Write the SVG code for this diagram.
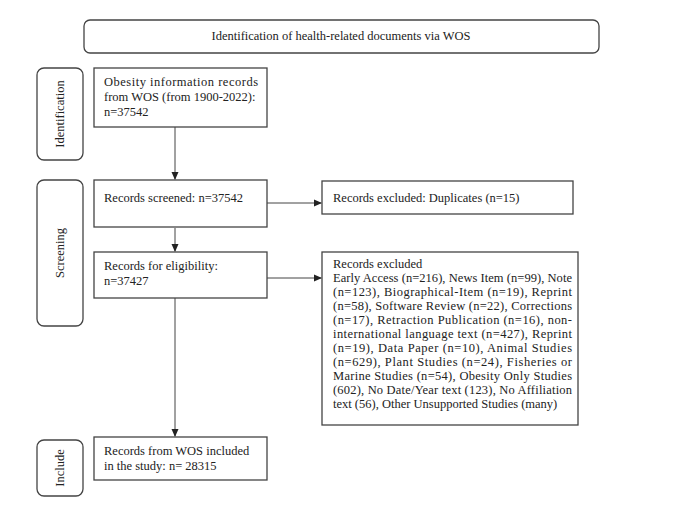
<svg xmlns="http://www.w3.org/2000/svg" width="687" height="505" viewBox="0 0 687 505">
<style>
text{font-family:"Liberation Serif","Times New Roman",serif;font-size:12.5px;fill:#222}
.b{fill:#fff;stroke:#444;stroke-width:1.3}
.c{stroke:#444;stroke-width:1;fill:none;marker-end:url(#a)}
</style>
<defs><marker id="a" markerWidth="8" markerHeight="8" refX="7" refY="4" orient="auto" markerUnits="userSpaceOnUse"><path d="M0,0.5 L8,4 L0,7.5z" fill="#222"/></marker></defs>
<rect width="687" height="505" fill="#fff"/>
<g id="top"><rect class="b" x="84" y="20" width="515" height="33" rx="6"/><text x="341" y="40" text-anchor="middle">Identification of health-related documents via WOS</text></g>
<g id="lab-ident"><rect class="b" x="37" y="68" width="46" height="92" rx="7"/><text transform="translate(64,114) rotate(-90)" text-anchor="middle">Identification</text></g>
<g id="lab-screen"><rect class="b" x="37" y="180" width="46" height="146" rx="7"/><text transform="translate(64,253) rotate(-90)" text-anchor="middle">Screening</text></g>
<g id="lab-incl"><rect class="b" x="37" y="440" width="46" height="56" rx="7"/><text transform="translate(64,468) rotate(-90)" text-anchor="middle">Include</text></g>
<g id="n1"><rect class="b" x="94" y="68" width="173" height="59"/><text x="104" y="86" textLength="154" lengthAdjust="spacing">Obesity information records</text><text x="104" y="101">from WOS (from 1900-2022):</text><text x="104" y="116">n=37542</text></g>
<g id="n2"><rect class="b" x="94" y="180" width="173" height="47"/><text x="104" y="202">Records screened: n=37542</text></g>
<g id="n3"><rect class="b" x="94" y="252" width="173" height="46"/><text x="104" y="270">Records for eligibility:</text><text x="104" y="285">n=37427</text></g>
<g id="n4"><rect class="b" x="94" y="437" width="173" height="43"/><text x="104" y="455">Records from WOS included</text><text x="104" y="470">in the study: n= 28315</text></g>
<g id="n5"><rect class="b" x="322" y="181" width="251" height="33"/><text x="333" y="202">Records excluded: Duplicates (n=15)</text></g>
<g id="n6"><rect class="b" x="322" y="252" width="256" height="173"/>
<text x="333" y="268">Records excluded</text>
<text x="333" y="282" textLength="239" lengthAdjust="spacing">Early Access (n=216), News Item (n=99), Note</text>
<text x="333" y="296" textLength="239" lengthAdjust="spacing">(n=123), Biographical-Item (n=19), Reprint</text>
<text x="333" y="310" textLength="239" lengthAdjust="spacing">(n=58), Software Review (n=22), Corrections</text>
<text x="333" y="324" textLength="239" lengthAdjust="spacing">(n=17), Retraction Publication (n=16), non-</text>
<text x="333" y="338" textLength="239" lengthAdjust="spacing">international language text (n=427), Reprint</text>
<text x="333" y="352" textLength="239" lengthAdjust="spacing">(n=19), Data Paper (n=10), Animal Studies</text>
<text x="333" y="366" textLength="239" lengthAdjust="spacing">(n=629), Plant Studies (n=24), Fisheries or</text>
<text x="333" y="380" textLength="239" lengthAdjust="spacing">Marine Studies (n=54), Obesity Only Studies</text>
<text x="333" y="394" textLength="239" lengthAdjust="spacing">(602), No Date/Year text (123), No Affiliation</text>
<text x="333" y="408">text (56), Other Unsupported Studies (many)</text></g>
<g id="connectors">
<line class="c" x1="175" y1="127" x2="175" y2="179"/>
<line class="c" x1="175" y1="228" x2="175" y2="251"/>
<line class="c" x1="175" y1="298" x2="175" y2="436"/>
<line class="c" x1="267" y1="203" x2="321" y2="203"/>
<line class="c" x1="267" y1="278" x2="321" y2="278"/>
</g>
</svg>
